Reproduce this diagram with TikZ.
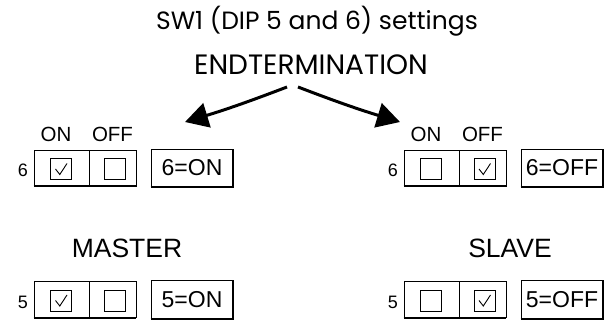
\documentclass[tikz,border=0pt]{standalone}
\usepackage{fontspec}
\setmainfont{Liberation Sans}
\newfontfamily\titlefont{Poppins}
\usetikzlibrary{arrows.meta}

\tikzset{
  cell/.style={draw, line width=0.7pt, minimum height=36pt, inner sep=0pt},
  tickbox/.style={draw, line width=0.9pt, minimum size=21pt, inner sep=0pt},
  setbox/.style={draw, line width=0.7pt, minimum width=82pt, minimum height=38pt, inner sep=0pt, font=\fontsize{23}{23}\selectfont},
  shade/.style={line width=2pt},
  bigarrow/.style={line width=3pt, -{Triangle[length=23pt,width=25pt]}}
}

\begin{document}
\begin{tikzpicture}[x=1pt,y=-1pt]
  \useasboundingbox (0,0) rectangle (605,320);

  % Headings
  \node[font=\titlefont\fontsize{25}{25}\selectfont, anchor=base] (title) at (317,30) {SW1 (DIP 5 and 6) settings};
  \node[font=\titlefont\fontsize{28}{28}\selectfont, anchor=base] (endterm) at (311,75) {ENDTERMINATION};

  % Arrows down to the two groups
  \coordinate (lstart) at (287,87);
  \coordinate (ltip) at (185,122);
  \coordinate (rstart) at (298,87);
  \coordinate (rtip) at (400,122);
  \draw[bigarrow] (lstart) to[bend left=2] (ltip);
  \draw[bigarrow] (rstart) to[bend right=2] (rtip);

  % Group titles
  \node[font=\fontsize{26.5}{26.5}\selectfont, anchor=base] (master) at (127,258) {MASTER};
  \node[font=\fontsize{26.5}{26.5}\selectfont, anchor=base] (slave) at (510,258) {SLAVE};

  % Switch rows: group offset / group / checked cell / state
  \foreach \gx/\g/\cx/\state in {0/l/61/ON, 370/r/114.5/OFF} {
    \node[font=\fontsize{20.5}{20.5}\selectfont, anchor=base] (on\g) at (\gx+56,142) {ON};
    \node[font=\fontsize{20.5}{20.5}\selectfont, anchor=base] (off\g) at (\gx+112.5,142) {OFF};
    \foreach \ry/\n in {168/6, 299.5/5} {
      \node[font=\fontsize{18}{18}\selectfont, anchor=base] (num\g\n) at (\gx+23,\ry+9) {\n};
      \node[cell, minimum width=55pt] (a\g\n) at (\gx+61.5,\ry) {};
      \node[cell, minimum width=47pt] (b\g\n) at (\gx+112.5,\ry) {};
      \draw[shade] (a\g\n.south west) -- (b\g\n.south east);
      \node[tickbox] (ta\g\n) at (\gx+61,\ry+1) {};
      \node[tickbox] (tb\g\n) at (\gx+114.5,\ry+1) {};
      \draw[line width=0.9pt] (\gx+\cx-5.5,\ry+1) -- (\gx+\cx-1.2,\ry+6.5) -- (\gx+\cx+6,\ry-4.5);
      \node[setbox] (set\g\n) at (\gx+192,\ry) {\n=\state};
      \draw[shade] (set\g\n.south west) -- (set\g\n.south east) -- (set\g\n.north east);
    }
  }
\end{tikzpicture}
\end{document}
